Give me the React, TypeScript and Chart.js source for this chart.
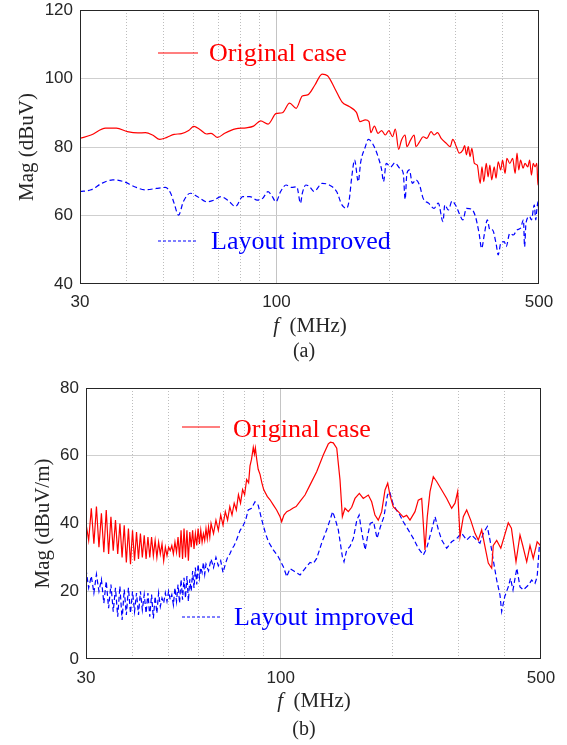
import React, { useEffect, useRef } from 'react';
import { Chart, registerables } from 'chart.js';

Chart.register(...registerables);

// ---------- axes ----------
const X_TICKS = [30, 40, 50, 60, 70, 80, 90, 100, 200, 300, 400, 500];
const X_LABELS = [30, 100, 500];

// ---------- (a) conducted, Mag (dBuV) : [MHz, dBuV] ----------
const topOriginal: [number, number][] = [
  [30.0, 82.5], [32.1, 83.5], [35.1, 85.5], [37.5, 85.5], [40.1, 84.5], [42.8, 84.1], [44.8, 84.2], [46.8, 83.5],
  [48.9, 82.2], [51.1, 82.8], [53.4, 83.7], [55.9, 83.9], [58.4, 84.8], [60.3, 86.0], [62.4, 85.2], [65.2, 83.8],
  [67.0, 84.0], [69.7, 82.8], [72.8, 84.0], [77.8, 85.3], [83.1, 85.6], [86.9, 86.1], [90.8, 87.6], [95.0, 86.7],
  [99.9, 89.8], [103.7, 90.0], [108.4, 92.8], [112.8, 91.3], [117.2, 94.9], [121.1, 95.2], [126.6, 98.1], [132.3, 101.3],
  [136.8, 100.8], [143.0, 97.1], [149.4, 93.2], [156.2, 91.8], [163.3, 90.1], [166.9, 87.4], [172.5, 87.9], [176.4, 87.4],
  [178.4, 84.2], [182.3, 86.1], [186.4, 84.0], [190.6, 84.8], [194.9, 83.5], [199.2, 84.8], [203.7, 83.0], [207.3, 85.2],
  [211.5, 79.3], [215.2, 82.0], [220.1, 83.5], [222.5, 80.1], [227.5, 82.0], [232.6, 83.5], [235.2, 80.1], [240.4, 81.5],
  [245.8, 83.0], [251.3, 82.5], [258.1, 84.5], [262.7, 83.5], [268.5, 84.2], [274.5, 82.5], [283.8, 81.0], [290.1, 80.1],
  [294.7, 82.2], [301.3, 80.1], [306.6, 78.2], [313.5, 79.1], [317.0, 80.4], [320.5, 77.7], [324.1, 80.1], [327.7, 77.2],
  [331.3, 79.6], [336.5, 75.2], [342.5, 74.7], [348.6, 69.4], [352.5, 74.2], [356.4, 69.9], [361.9, 75.2], [366.0, 71.3],
  [370.0, 74.7], [374.1, 70.4], [380.0, 74.2], [384.2, 70.9], [389.4, 75.7], [395.5, 73.3], [399.9, 76.2], [406.1, 72.3],
  [410.6, 76.7], [418.0, 75.2], [425.4, 76.7], [432.1, 72.3], [436.9, 78.2], [441.7, 73.3], [446.6, 76.2], [453.6, 73.8],
  [458.7, 75.2], [466.9, 74.2], [472.1, 76.2], [477.3, 71.8], [482.6, 75.2], [488.0, 74.2], [493.4, 75.2], [496.7, 68.9],
  [500, 71.3],
];

const topImproved: [number, number][] = [
  [30.0, 67], [32.1, 67.5], [34.3, 69.4], [36.7, 70.4], [39.2, 69.9], [41.9, 68.4], [44.8, 67.5], [47.9, 67.9],
  [50.6, 68.2], [52.3, 66.5], [53.4, 63.6], [54.9, 60.1], [56.5, 64], [59.0, 66.5], [61.7, 65.5], [65.2, 64],
  [68.2, 64.5], [71.2, 65.5], [74.5, 64.3], [77.8, 62.6], [81.3, 65.5], [85.0, 65.5], [88.9, 64.5], [91.9, 65],
  [95.0, 67], [97.5, 65.5], [99.7, 64], [102.6, 67], [106.1, 68.9], [109.6, 68.2], [113.3, 68.4], [115.9, 63.6],
  [117.2, 66.5], [119.8, 68.9], [122.5, 68.4], [126.0, 67], [132.3, 69.4], [138.3, 68.9], [144.6, 67], [149.4, 63.1],
  [153.8, 62.1], [156.2, 64.5], [158.7, 71.3], [161.5, 76.2], [165.1, 69.9], [167.7, 75.7], [172.5, 80.1], [175.6, 82.2],
  [180.3, 81], [186.4, 77.2], [190.6, 73.3], [192.7, 69.9], [196.1, 75.2], [201.4, 74.2], [206.8, 75.4], [212.9, 73.8],
  [217.6, 72.3], [220.1, 64.7], [222.5, 72.3], [226.0, 73.3], [230.0, 69.4], [235.2, 70.4], [240.4, 68.9], [245.8, 65],
  [254.1, 63.6], [262.7, 62.1], [269.7, 63.6], [277.6, 58.2], [280.7, 63.1], [286.9, 61.6], [293.3, 64.2], [301.3, 62.6],
  [306.6, 60.6], [313.5, 58.7], [320.5, 62.1], [331.3, 61.8], [338.7, 59.7], [346.3, 54.8], [351.7, 50.4], [358.0, 54.8],
  [364.3, 58.7], [370.0, 55.8], [375.8, 55.8], [384.2, 51.9], [389.4, 48.5], [395.5, 51.9], [404.3, 52.4], [408.8, 50.9],
  [418.0, 54.8], [427.3, 54.3], [436.9, 55.8], [446.6, 56.3], [454.6, 58.7], [457.7, 50.9], [461.7, 57.8], [472.1, 59.7],
  [477.3, 58.7], [485.8, 63.1], [490.1, 58.7], [493.4, 61.6], [496.7, 64.0], [500, 59.7],
];

// ---------- (b) radiated, Mag (dBuV/m) : [MHz, dBuV/m] ----------
const bottomOriginal: [number, number][] = [
  [30, 40], [30.5, 35], [31, 44.5], [31.5, 34], [32, 45], [32.5, 33], [33, 43], [33.5, 31.5], [34, 44], [34.5, 31],
  [35, 42], [35.5, 32], [36, 41], [36.5, 31], [37, 40], [37.5, 30], [38, 39.5], [38.5, 28.5], [39, 38.5], [39.5, 28],
  [40, 38], [40.5, 29], [41, 37.5], [41.5, 29.5], [42, 37], [42.5, 30], [43, 36.5], [43.5, 29.5], [44, 36], [44.5, 30],
  [45, 36], [45.5, 30.5], [46, 35], [46.5, 30], [47, 34.5], [47.5, 31], [48, 34], [48.5, 29], [49, 33], [49.5, 30.5],
  [50, 33], [50.5, 32], [51, 33.5], [51.5, 31], [52, 34.5], [52.5, 31.5], [53, 36], [53.5, 30], [54, 38], [54.5, 29.5],
  [55, 38.5], [55.5, 30], [56, 38], [56.5, 29], [57, 37.5], [57.5, 33], [58, 38], [58.5, 32.5], [59, 37], [59.5, 33.5],
  [60, 38.5], [60.5, 34], [61, 38], [61.5, 34.5], [62, 37], [62.5, 35], [63, 38.5], [63.5, 35.5], [64, 39], [64.5, 36],
  [65, 40], [66, 37], [67, 41], [68, 38], [69, 42.5], [70, 39.5], [71, 43.5], [72, 41], [73, 45], [74, 42.5],
  [75, 46], [76, 44], [77, 48.5], [78, 46], [79, 50], [80, 48.5], [81, 53], [82, 52], [82.7, 57], [83.5, 59],
  [84.4, 62.5], [85, 60.5], [85.5, 62.3], [86.2, 59], [87, 56], [88, 54.5], [89, 52], [90, 50], [92, 48], [93.6, 47],
  [95.5, 45.5], [97.5, 44], [99.6, 42], [100.6, 40.5], [102, 42.5], [103.8, 43.5], [106, 44], [108, 44.6], [110, 45], [112.7, 46.5],
  [116.2, 48.4], [119.9, 51.4], [124.9, 55.3], [130.1, 60.2], [134.2, 63.5], [136, 64], [138.4, 63.8], [141.4, 62.2], [144.3, 52.8], [146.4, 42],
  [148.8, 44.5], [151.9, 43.5], [155.1, 44.8], [158.3, 47.4], [162.6, 48.9], [166.6, 47.4], [171.9, 48.4], [175.5, 46.4], [179.1, 42.5], [182.8, 41.0],
  [186.7, 43.5], [190.6, 49.9], [193.8, 51.9], [196.5, 48.4], [200.6, 44.9], [206.9, 43.5], [213.4, 41.9], [217.9, 42.4], [222.4, 41.0], [229.4, 43.5],
  [234.1, 46.9], [239.1, 47.4], [241.5, 40], [244.0, 32.2], [247.5, 42], [251.7, 49.4], [256.9, 53.8], [262.3, 52.4], [270.6, 49.9], [279.1, 47.4],
  [287.8, 44.5], [293.8, 46], [298.7, 49.4], [303.0, 36.1], [309.3, 42], [315.8, 44], [323.7, 41], [332.4, 37.1], [339.3, 35.1], [346.5, 38.1],
  [353.6, 33.2], [360.9, 28.3], [368.6, 26.8], [372.2, 33.5], [380.2, 35], [390, 32.7], [408.4, 40.2], [416.4, 38.6], [428.4, 28.7], [439.1, 36.6],
  [446.6, 33.5], [457.7, 28.7], [467.1, 33.5], [476.6, 29.7], [488.3, 34.6], [496.4, 33.7], [500, 33],
];

const bottomImproved: [number, number][] = [
  [30, 26.5], [30.5, 21], [31, 24.5], [31.5, 19.5], [32, 25], [32.5, 20], [33, 23.5], [33.5, 16.5], [34, 23], [34.5, 15],
  [35, 22], [35.5, 14], [36, 21], [36.5, 12.5], [37, 21.5], [37.5, 11.5], [38, 20.5], [38.5, 13], [39, 21], [39.5, 13.5],
  [40, 20], [40.5, 14], [41, 19.5], [41.5, 13], [42, 20], [42.5, 14.5], [43, 19], [43.5, 13.5], [44, 19.5], [44.5, 12.5],
  [45, 19], [45.5, 12], [46, 18.5], [46.5, 13.5], [47, 19.5], [47.5, 15.5], [48, 18], [48.5, 16.5], [49, 19.5], [49.5, 17],
  [50, 20], [50.5, 17.5], [51, 19], [51.5, 16], [52, 21], [52.5, 17], [53, 22], [53.5, 16.5], [54, 23.5], [54.5, 17.5],
  [55, 24], [55.5, 18], [56, 24.5], [56.5, 17], [57, 23.5], [57.5, 20], [58, 26], [58.5, 21], [59, 27], [59.5, 22],
  [60, 28], [60.5, 24], [61, 27], [61.5, 25.5], [62, 28.5], [62.5, 25], [63, 28], [64, 26], [65, 29.5], [66, 27],
  [67, 30], [68, 27.5], [69, 29], [70, 25.5], [71, 28], [72, 30], [73, 31], [74, 32.5], [75, 33.5], [76, 35],
  [77.8, 38], [79, 39], [80.5, 41], [81.8, 44], [83.5, 44.5], [85.3, 46.4], [87, 45.4], [89, 41], [91, 37.1], [92.7, 34.6],
  [95.5, 32.2], [98.5, 30.2], [101.7, 27.2], [103.8, 24.3], [105.9, 26.7], [109, 25.8], [112.7, 24.8], [116.2, 26.7], [119.9, 28.5], [122.4, 28.2],
  [124.9, 29.7], [128.8, 34.2], [132.8, 38.1], [135.6, 41], [137.9, 43.5], [139.9, 41.5], [142.8, 38.1], [146.4, 30.2], [147.9, 28.7], [150.4, 32.2],
  [153.5, 33.2], [156.7, 35.6], [160.1, 41], [162.4, 42.5], [165.2, 37.1], [168.6, 32.2], [171, 36.1], [173.9, 40], [177.6, 40.5], [181.4, 35.6],
  [185.3, 39.1], [189.3, 42], [193.5, 48.4], [196.1, 49.4], [200, 46], [204.4, 44], [208.9, 42.5], [213.4, 40.5], [220.1, 38.1], [227, 35.6],
  [234.1, 32.7], [241.5, 30.7], [246.6, 32.7], [254.3, 38.1], [259.7, 42], [265.2, 38.1], [270.6, 35.1], [279.1, 32.7], [287.8, 34.6], [296.9, 35.6],
  [306.2, 37.1], [315.8, 35.1], [325.6, 36.6], [335.9, 35.1], [342.8, 34.2], [349.9, 37.1], [358.7, 39.1], [364.8, 35.1], [372.2, 29.2], [380.2, 23.3],
  [388, 18.9], [392, 14], [399.5, 18.4], [408.4, 21.3], [414, 23.8], [420.5, 20.4], [430.6, 26.8], [439.1, 21.3], [448.2, 20.4], [462.3, 21.8],
  [472, 23.3], [481.8, 22.3], [488.3, 24.3], [494.8, 33.2], [500, 34],
];

const SERIES_NAMES = ['Original case', 'Layout improved'];
const RED = '#ff0000';
const BLUE = '#0000ff';
const TEXT = '#262626';

const toPoints = (arr: [number, number][]) => arr.map(([x, y]) => ({ x, y }));

const framePlugin = {
  id: 'frameLegend',
  afterDatasetsDraw(chart: any, _args: any, opts: any) {
    const { ctx, chartArea: a } = chart;
    ctx.save();
    // legend samples + labels inside the plot
    (opts.items || []).forEach((it: any) => {
      ctx.strokeStyle = it.color;
      ctx.lineWidth = 1.2;
      ctx.setLineDash(it.dash);
      ctx.beginPath();
      ctx.moveTo(a.left + it.x0, a.top + it.ly);
      ctx.lineTo(a.left + it.x1, a.top + it.ly);
      ctx.stroke();
      ctx.setLineDash([]);
      ctx.fillStyle = it.color;
      ctx.font = '26px "Liberation Serif", "Times New Roman", serif';
      ctx.textBaseline = 'alphabetic';
      ctx.textAlign = 'left';
      ctx.fillText(it.text, a.left + it.tx, a.top + it.ty);
    });
    // box
    ctx.strokeStyle = TEXT;
    ctx.lineWidth = 1;
    const l = Math.round(a.left) + 0.5;
    const t = Math.round(a.top) + 0.5;
    const r = Math.round(a.right) - 0.5;
    const b = Math.round(a.bottom) - 0.5;
    ctx.strokeRect(l, t, r - l, b - t);
    ctx.restore();
  },
};

function makeConfig(p: {
  original: [number, number][];
  improved: [number, number][];
  yMin: number;
  yMax: number;
  yTitle: string;
  yTitlePad: number;
  padTop: number;
  padRight: number;
  yAxisWidth: number;
  xLabelPad: number;
  smooth: boolean;
  legend: any[];
}) {
  const tickFont = { family: '"Liberation Sans", Arial, sans-serif', size: 17 };
  return {
    type: 'line' as const,
    data: {
      datasets: [
        {
          label: SERIES_NAMES[0],
          data: toPoints(p.original),
          borderColor: RED,
          borderWidth: 1.2,
          pointRadius: 0,
          fill: false,
          cubicInterpolationMode: p.smooth ? ('monotone' as const) : ('default' as const),
          tension: 0,
        },
        {
          label: SERIES_NAMES[1],
          data: toPoints(p.improved),
          borderColor: BLUE,
          borderWidth: 1.2,
          borderDash: [5, 3],
          pointRadius: 0,
          fill: false,
          cubicInterpolationMode: p.smooth ? ('monotone' as const) : ('default' as const),
          tension: 0,
        },
      ],
    },
    options: {
      animation: false as const,
      responsive: false,
      maintainAspectRatio: false,
      layout: { padding: { left: 0, right: p.padRight, top: p.padTop, bottom: 0 } },
      plugins: {
        legend: { display: false },
        tooltip: { enabled: false },
        frameLegend: { items: p.legend },
      },
      scales: {
        x: {
          type: 'logarithmic' as const,
          min: 30,
          max: 500,
          afterBuildTicks: (axis: any) => {
            axis.ticks = X_TICKS.map((v) => ({ value: v }));
          },
          afterFit: (axis: any) => {
            axis.height = 86;
            axis.paddingLeft = 0;
            axis.paddingRight = 0;
          },
          ticks: {
            autoSkip: false,
            maxRotation: 0,
            padding: p.xLabelPad,
            color: TEXT,
            font: tickFont,
            callback: (v: any) => (X_LABELS.includes(Number(v)) ? String(v) : ''),
          },
          grid: {
            drawTicks: false,
            lineWidth: 1,
            color: (c: any) => {
              const v = c.tick ? c.tick.value : 0;
              if (v === 30 || v === 500) return 'rgba(0,0,0,0)';
              return v === 100 ? '#c4c4c4' : '#bdbdbd';
            },
          },
          border: {
            display: false,
            dash: (c: any) => (c.tick && c.tick.value === 100 ? [] : [1, 2]),
          },
        },
        y: {
          type: 'linear' as const,
          min: p.yMin,
          max: p.yMax,
          afterFit: (axis: any) => {
            axis.width = p.yAxisWidth;
            axis.paddingTop = 0;
            axis.paddingBottom = 0;
          },
          ticks: { stepSize: 20, padding: 7, color: TEXT, font: tickFont },
          grid: {
            drawTicks: false,
            lineWidth: 1,
            color: (c: any) => {
              const v = c.tick ? c.tick.value : 0;
              if (v === p.yMin || v === p.yMax) return 'rgba(0,0,0,0)';
              return '#cfcfcf';
            },
          },
          border: { display: false },
          title: {
            display: true,
            text: p.yTitle,
            color: TEXT,
            font: { family: '"Liberation Serif", "Times New Roman", serif', size: 21 },
            padding: { top: p.yTitlePad, bottom: 0 },
          },
        },
      },
    },
    plugins: [framePlugin],
  };
}

const legendTop = [
  { text: SERIES_NAMES[0], color: RED, dash: [], x0: 78, x1: 118, ly: 43, tx: 129, ty: 51 },
  { text: SERIES_NAMES[1], color: BLUE, dash: [3, 2], x0: 78, x1: 118, ly: 231, tx: 131, ty: 239 },
];
const legendBottom = [
  { text: SERIES_NAMES[0], color: RED, dash: [], x0: 96, x1: 134, ly: 39, tx: 147, ty: 49 },
  { text: SERIES_NAMES[1], color: BLUE, dash: [3, 2], x0: 96, x1: 134, ly: 229, tx: 148, ty: 237 },
];

const serif = '"Liberation Serif", "Times New Roman", serif';

function Label(props: { x: number; y: number; size: number; children: any }) {
  return (
    <div
      style={{
        position: 'absolute',
        left: props.x,
        top: props.y,
        transform: 'translate(-50%, -50%)',
        fontFamily: serif,
        fontSize: props.size,
        lineHeight: 1,
        color: TEXT,
        whiteSpace: 'nowrap',
      }}
    >
      {props.children}
    </div>
  );
}

export default function App() {
  const ref1 = useRef<HTMLCanvasElement | null>(null);
  const ref2 = useRef<HTMLCanvasElement | null>(null);

  useEffect(() => {
    const c1 = new Chart(
      ref1.current as HTMLCanvasElement,
      makeConfig({
        original: topOriginal,
        improved: topImproved,
        yMin: 40,
        yMax: 120,
        yTitle: 'Mag (dBuV)',
        yTitlePad: 15,
        padTop: 10,
        padRight: 28,
        yAxisWidth: 80,
        xLabelPad: 8,
        smooth: true,
        legend: legendTop,
      }) as any
    );
    const c2 = new Chart(
      ref2.current as HTMLCanvasElement,
      makeConfig({
        original: bottomOriginal,
        improved: bottomImproved,
        yMin: 0,
        yMax: 80,
        yTitle: 'Mag (dBuV/m)',
        yTitlePad: 31,
        padTop: 18,
        padRight: 26,
        yAxisWidth: 86,
        xLabelPad: 9,
        smooth: false,
        legend: legendBottom,
      }) as any
    );
    return () => {
      c1.destroy();
      c2.destroy();
    };
  }, []);

  return (
    <div style={{ position: 'absolute', left: 0, top: 0, width: 567, height: 745, background: '#ffffff', overflow: 'hidden' }}>
      <canvas ref={ref1} width={567} height={370} style={{ position: 'absolute', left: 0, top: 0, width: 567, height: 370 }} />
      <canvas ref={ref2} width={567} height={375} style={{ position: 'absolute', left: 0, top: 370, width: 567, height: 375 }} />
      <Label x={310} y={325} size={21}>
        <i>f</i>&nbsp;&nbsp;(MHz)
      </Label>
      <Label x={304} y={350} size={20}>(a)</Label>
      <Label x={314} y={700} size={21}>
        <i>f</i>&nbsp;&nbsp;(MHz)
      </Label>
      <Label x={304} y={728} size={20}>(b)</Label>
    </div>
  );
}
